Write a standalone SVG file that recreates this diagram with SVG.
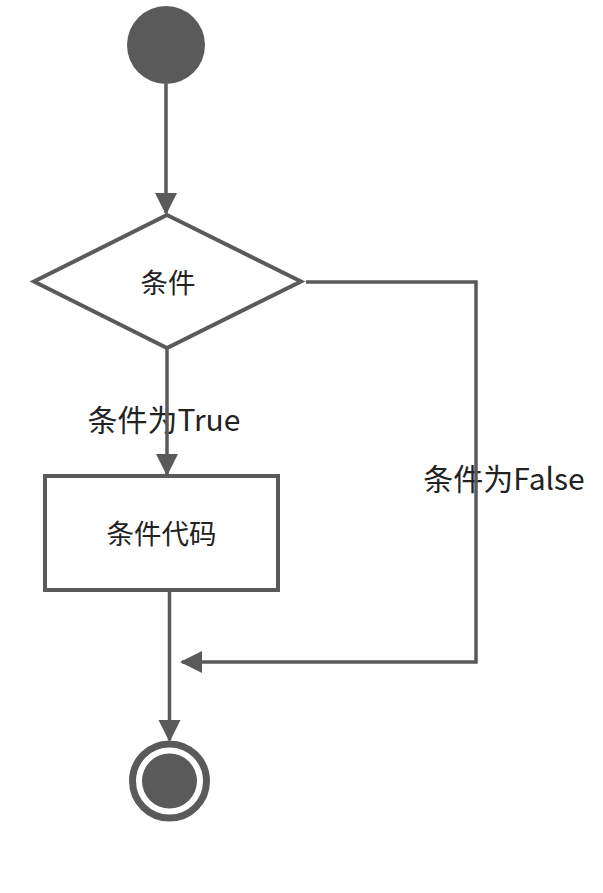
<svg xmlns="http://www.w3.org/2000/svg" width="603" height="893" viewBox="0 0 603 893">
  <style>
    .ln { fill: none; stroke: #5a5a5a; stroke-width: 3.5; }
    .shape { fill: #ffffff; stroke: #5a5a5a; stroke-width: 4; }
    .txt { font-family: "Microsoft YaHei", "Noto Sans CJK SC", "Noto Sans", sans-serif; fill: #222222; text-anchor: middle; dominant-baseline: central; }
    .lbl { font-size: 30px; }
    .nd { font-size: 27.5px; }
  </style>
  <defs>
    <marker id="arr" markerWidth="22" markerHeight="24" refX="20" refY="11" orient="auto" markerUnits="userSpaceOnUse">
      <path d="M0,0 L22,11 L0,22 Z" fill="#5a5a5a"/>
    </marker>
  </defs>
  <rect width="603" height="893" fill="#ffffff"/>
  <g id="start">
    <circle cx="166" cy="45" r="39" fill="#5a5a5a"/>
  </g>
  <g id="decision">
    <polygon class="shape" points="167,215 301,281.5 167,348 34,281.5"/>
    <text class="txt nd" x="168" y="281">条件</text>
  </g>
  <g id="action">
    <rect class="shape" x="45" y="476" width="233" height="114"/>
    <text class="txt nd" x="161.5" y="532">条件代码</text>
  </g>
  <g id="end">
    <circle cx="169.5" cy="781" r="37" fill="#ffffff" stroke="#5a5a5a" stroke-width="7"/>
    <circle cx="169.5" cy="781" r="27.5" fill="#5a5a5a"/>
  </g>
  <g id="labels">
    <text class="txt lbl" x="164" y="418">条件为True</text>
    <text class="txt lbl" x="504" y="477">条件为False</text>
  </g>
  <g id="connectors">
    <line class="ln" x1="166" y1="84" x2="166" y2="213" marker-end="url(#arr)"/>
    <line class="ln" x1="167" y1="348" x2="167" y2="474" marker-end="url(#arr)"/>
    <line class="ln" x1="169.5" y1="590" x2="169.5" y2="740" marker-end="url(#arr)"/>
    <polyline class="ln" points="306,282 476,282 476,662 182,662" marker-end="url(#arr)"/>
  </g>
</svg>
